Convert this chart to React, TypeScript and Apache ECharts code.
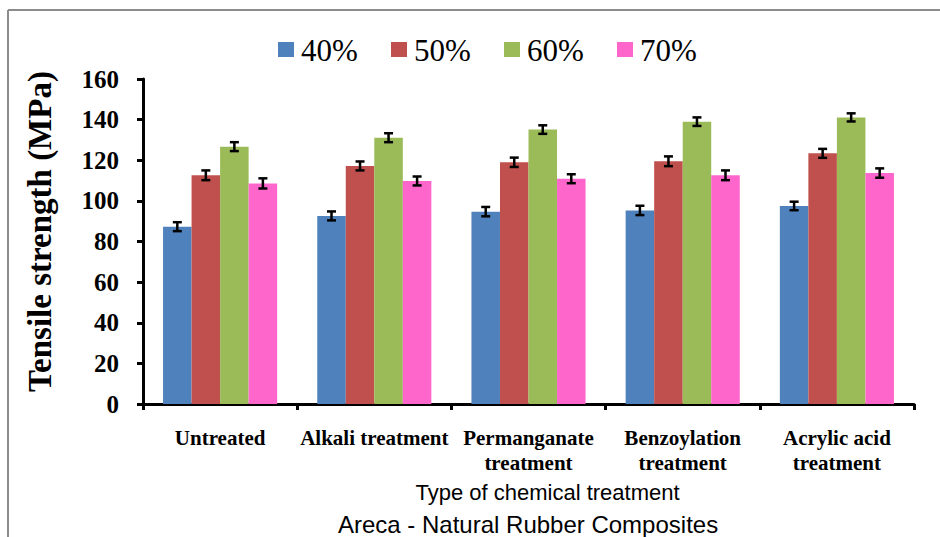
import React, { useEffect, useRef } from "react";
import * as echarts from "echarts";

const categories = [
  "Untreated",
  "Alkali treatment",
  "Permanganate\ntreatment",
  "Benzoylation\ntreatment",
  "Acrylic acid\ntreatment",
];
const seriesNames = ["40%", "50%", "60%", "70%"];
const values40 = [87.3, 92.6, 94.7, 95.3, 97.5];
const values50 = [112.6, 117.2, 119.0, 119.5, 123.4];
const values60 = [126.7, 131.1, 135.1, 139.0, 141.1];
const values70 = [108.6, 109.8, 110.9, 112.6, 113.7];
const errors40 = [2.2, 2.2, 2.3, 2.3, 2.1];
const errors50 = [2.4, 2.2, 2.3, 2.4, 2.2];
const errors60 = [2.2, 2.2, 2.1, 2.1, 2.0];
const errors70 = [2.5, 2.2, 2.2, 2.4, 2.3];
const yTicks = [0, 20, 40, 60, 80, 100, 120, 140, 160];
const colors = ["#4F81BD", "#C0504D", "#9BBB59", "#FF66CC"];

const allValues = [values40, values50, values60, values70];
const allErrors = [errors40, errors50, errors60, errors70];
const GAP = 0.26;
const SERIF = "Liberation Serif";
const SANS = "Liberation Sans";
const LEGEND_LEFT = 278;
const LEGEND_STEP = 113;

export default function App() {
  const ref = useRef<HTMLDivElement>(null);
  useEffect(() => {
    if (!ref.current) return;
    const chart = echarts.init(ref.current, null, { renderer: "svg" });
    const barSeries = seriesNames.map((name, i) => ({
      name,
      type: "bar",
      data: allValues[i],
      itemStyle: { color: colors[i] },
      barGap: "0%",
      barCategoryGap: GAP * 100 + "%",
      z: 2,
    }));
    const errSeries = seriesNames.map((name, s) => ({
      type: "custom",
      name: name + "_err",
      data: allValues[s].map((v, k) => [k, v, allErrors[s][k]]),
      z: 5,
      renderItem: (params: any, api: any) => {
        const k = api.value(0);
        const v = api.value(1);
        const e = api.value(2);
        const band = api.size([1, 0])[0];
        const bw = (band * (1 - GAP)) / 4;
        const off = (s - 1.5) * bw;
        const hi = api.coord([k, v + e]);
        const lo = api.coord([k, v - e]);
        const x = hi[0] + off;
        const cap = 4.5;
        const st = { stroke: "#000", lineWidth: 2.5 };
        return {
          type: "group",
          children: [
            { type: "line", shape: { x1: x, y1: hi[1], x2: x, y2: lo[1] }, style: st },
            { type: "line", shape: { x1: x - cap, y1: hi[1], x2: x + cap, y2: hi[1] }, style: st },
            { type: "line", shape: { x1: x - cap, y1: lo[1], x2: x + cap, y2: lo[1] }, style: st },
          ],
        };
      },
    }));
    const legendTexts = seriesNames.map((n, i) => ({
      type: "text",
      x: LEGEND_LEFT + i * LEGEND_STEP + 23,
      y: 50,
      style: {
        text: n,
        fontFamily: SERIF,
        fontSize: 31,
        fill: "#000",
        verticalAlign: "middle",
        align: "left",
      },
    }));
    chart.setOption({
      animation: false,
      backgroundColor: "#fff",
      legend: {
        data: seriesNames,
        left: LEGEND_LEFT,
        top: 42,
        padding: 0,
        icon: "rect",
        itemWidth: 16,
        itemHeight: 15,
        itemGap: LEGEND_STEP - 16,
        formatter: () => "",
        textStyle: { fontSize: 10 },
      },
      grid: { left: 143, top: 79, width: 771, height: 325, containLabel: false },
      xAxis: {
        type: "category",
        data: categories,
        axisLine: { lineStyle: { color: "#000", width: 3 } },
        axisTick: { show: true, length: 6, lineStyle: { color: "#000", width: 3 } },
        axisLabel: {
          margin: 21,
          interval: 0,
          fontFamily: SERIF,
          fontWeight: "bold",
          fontSize: 21,
          lineHeight: 25,
          color: "#000",
        },
        name: "Type of chemical treatment",
        nameLocation: "middle",
        nameGap: 77,
        nameTextStyle: { fontFamily: SANS, fontSize: 22, color: "#000", padding: [0, 0, 0, 38] },
      },
      yAxis: {
        type: "value",
        min: 0,
        max: 160,
        interval: 20,
        axisLine: { show: true, lineStyle: { color: "#000", width: 3 } },
        axisTick: { show: true, length: 6, lineStyle: { color: "#000", width: 3 } },
        splitLine: { show: false },
        axisLabel: {
          margin: 24,
          fontFamily: SERIF,
          fontWeight: "bold",
          fontSize: 25,
          color: "#000",
          formatter: (v: number) => (yTicks.includes(v) ? String(v) : ""),
        },
        name: "Tensile strength (MPa)",
        nameLocation: "middle",
        nameGap: 87,
        nameTextStyle: {
          fontFamily: SERIF,
          fontWeight: "bold",
          fontSize: 33,
          color: "#000",
          padding: [0, 0, 0, 20],
        },
      },
      graphic: [
        { type: "line", shape: { x1: 8, y1: 10, x2: 940, y2: 10 }, style: { stroke: "#8c8c8c", lineWidth: 2 } },
        { type: "line", shape: { x1: 8, y1: 10, x2: 8, y2: 537 }, style: { stroke: "#8c8c8c", lineWidth: 2 } },
        ...legendTexts,
        {
          type: "text",
          left: 338,
          top: 512,
          style: {
            text: "Areca - Natural Rubber Composites",
            fontFamily: SANS,
            fontSize: 24,
            fill: "#000",
          },
        },
      ],
      series: [...barSeries, ...errSeries],
    });
    return () => chart.dispose();
  }, []);
  return <div ref={ref} style={{ position: "fixed", left: 0, top: 0, width: 940, height: 537 }} />;
}
